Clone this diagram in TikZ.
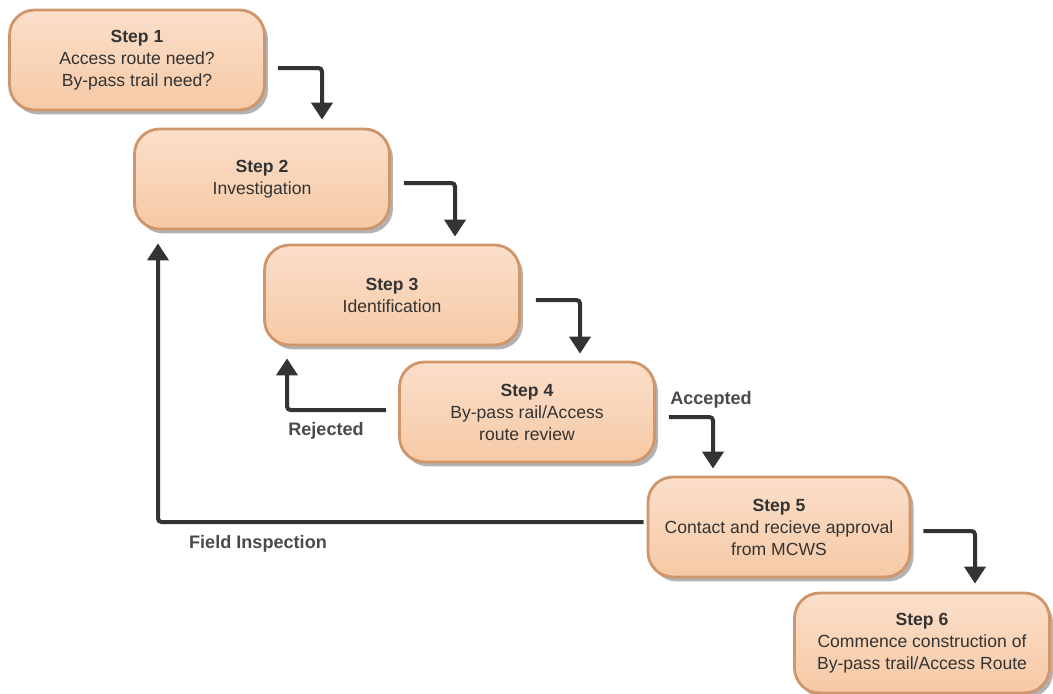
\documentclass[tikz,border=0pt]{standalone}
\usepackage{fontspec}
\setmainfont{Liberation Sans}
\usetikzlibrary{positioning}
\usetikzlibrary{calc}
\usetikzlibrary{arrows.meta}
\usetikzlibrary{shadows}

\definecolor{boxfill}{HTML}{F6C9A5}
\definecolor{boxtop}{HTML}{FBDFCA}
\definecolor{boxline}{HTML}{CF956B}
\definecolor{arrowgray}{HTML}{333333}
\definecolor{textgray}{HTML}{333333}
\definecolor{labelgray}{HTML}{4A4A4A}

\tikzset{
	stepbox/.style = {draw = boxline, line width = 1.6pt, rectangle, rounded corners = 0.5cm,
		top color = boxtop, bottom color = boxfill, minimum width = 5.1cm, minimum height = 2cm,
		align = center, text = textgray, font = \fontsize{10}{12.5}\selectfont,
		drop shadow = {shadow xshift = 2pt, shadow yshift = -2.5pt, opacity = 0.3, fill = black}},
	flow/.style = {draw = arrowgray, line width = 0.08cm, rounded corners = 2pt,
		-{Triangle[width = 0.42cm, length = 0.34cm]}},
	flowlabel/.style = {text = labelgray, font = \fontsize{10.3}{12}\selectfont\bfseries}
}

\begin{document}
\begin{tikzpicture}[x = 0.02cm, y = -0.02cm]
		\useasboundingbox (0,0) rectangle (1053,693);
		\node[stepbox] at (137,60) (s1) {\textbf{Step 1}\\Access route need?\\By-pass trail need?};
		\node[stepbox] at (262,179) (s2) {\textbf{Step 2}\\Investigation};
		\node[stepbox] at (392,295) (s3) {\textbf{Step 3}\\Identification};
		\node[stepbox] at (527,412) (s4) {\textbf{Step 4}\\By-pass rail/Access\\route review};
		\node[stepbox, minimum width = 5.24cm] at (779,527) (s5) {\textbf{Step 5}\\Contact and recieve approval\\from MCWS};
		\node[stepbox] at (922,643) (s6) {\textbf{Step 6}\\Commence construction of\\By-pass trail/Access Route};
		\draw[flow] ($(s1.east)+(12,8)$) -| ($(s2.north)+(60,-8)$);
		\draw[flow] ($(s2.east)+(13,4)$) -| ($(s3.north)+(63,-7)$);
		\draw[flow] ($(s3.east)+(15,5)$) -| ($(s4.north)+(53,-7)$);
		\draw[flow] ($(s4.east)+(13,5)$) -| ($(s5.north)+(-66,-7)$);
		\draw[flow] ($(s5.east)+(12,4)$) -| ($(s6.north)+(53,-8)$);
		\draw[flow] ($(s4.west)+(-12,-2)$) -| ($(s3.south)+(-105,12)$);
		\draw[flow] ($(s5.west)+(-3,-5)$) -| ($(s2.south)+(-104,13)$);
		\node[flowlabel] at (711,400) (acc) {Accepted};
		\node[flowlabel] at (326,431) (rej) {Rejected};
		\node[flowlabel] at (258,544) (fi) {Field Inspection};
	\end{tikzpicture}
\end{document}
